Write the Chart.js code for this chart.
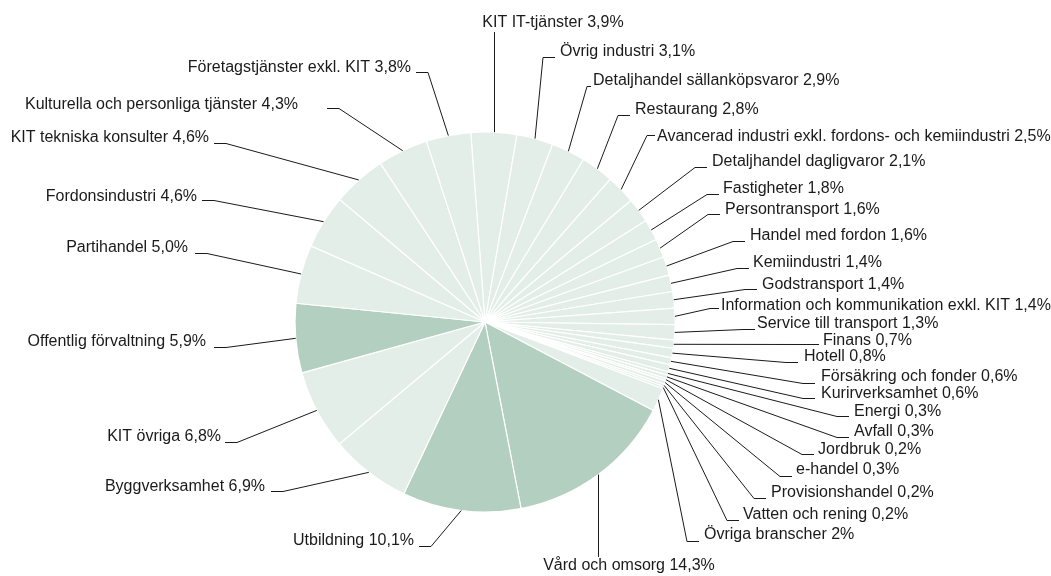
<!DOCTYPE html>
<html>
<head>
<meta charset="utf-8">
<script src="https://cdn.jsdelivr.net/npm/chart.js@4"></script>
<style>
    html, body { margin: 0; padding: 0; background: #fff; }
    #wrap { width: 1051px; height: 576px; }
</style>
</head>
<body>
<div id="wrap"><canvas id="pieChart" width="1051" height="576"></canvas></div>
<script>
// Branscher, clockwise from the top
var categories = [
    'KIT IT-tjänster', 'Övrig industri', 'Detaljhandel sällanköpsvaror', 'Restaurang',
    'Avancerad industri exkl. fordons- och kemiindustri', 'Detaljhandel dagligvaror',
    'Fastigheter', 'Persontransport', 'Handel med fordon', 'Kemiindustri', 'Godstransport',
    'Information och kommunikation exkl. KIT', 'Service till transport', 'Finans', 'Hotell',
    'Försäkring och fonder', 'Kurirverksamhet', 'Energi', 'Avfall', 'Jordbruk', 'e-handel',
    'Provisionshandel', 'Vatten och rening', 'Övriga branscher', 'Vård och omsorg',
    'Utbildning', 'Byggverksamhet', 'KIT övriga', 'Offentlig förvaltning', 'Partihandel',
    'Fordonsindustri', 'KIT tekniska konsulter', 'Kulturella och personliga tjänster',
    'Företagstjänster exkl. KIT'
];
var values = [
    3.9, 3.1, 2.9, 2.8, 2.5, 2.1, 1.8, 1.6, 1.6, 1.4, 1.4, 1.4, 1.3, 0.7, 0.8, 0.6, 0.6,
    0.3, 0.3, 0.2, 0.3, 0.2, 0.2, 2, 14.3, 10.1, 6.9, 6.8, 5.9, 5.0, 4.6, 4.6, 4.3, 3.8
];
var valueText = [
    '3,9%', '3,1%', '2,9%', '2,8%', '2,5%', '2,1%', '1,8%', '1,6%', '1,6%', '1,4%', '1,4%',
    '1,4%', '1,3%', '0,7%', '0,8%', '0,6%', '0,6%', '0,3%', '0,3%', '0,2%', '0,3%', '0,2%',
    '0,2%', '2%', '14,3%', '10,1%', '6,9%', '6,8%', '5,9%', '5,0%', '4,6%', '4,6%', '4,3%', '3,8%'
];
var highlighted = ['Vård och omsorg', 'Utbildning', 'Offentlig förvaltning'];

// Label layout: [leader knee x (null = straight vertical), knee y, text x, text y]
var labelPos = [
    [null, 32, 553, 23],
    [543, 57, 560, 52],
    [587, 86, 593, 81],
    [618, 115, 635, 110],
    [647, 135, 657, 137],
    [695, 167, 712, 162],
    [707, 194, 723, 189],
    [708, 214, 725, 210],
    [733, 241, 750, 236],
    [737, 268, 753, 263],
    [745, 289, 762, 285],
    [710, 308, 721, 306],
    [743, 329, 757, 324],
    [807, 344, 823, 341],
    [786, 362, 804, 357],
    [803, 383, 821, 377],
    [803, 398, 821, 394],
    [837, 416, 854, 412],
    [837, 437, 854, 432],
    [802, 454, 818, 450],
    [780, 476, 796, 470],
    [754, 498, 771, 493],
    [727, 520, 743, 515],
    [687, 541, 704, 535],
    [null, 557, 629, 566],
    [431, 546, 414, 541],
    [283, 491, 265, 487],
    [237, 442, 221, 437],
    [226, 347, 206, 342],
    [207, 253, 188, 248],
    [214, 200, 197, 197],
    [226, 143, 209, 138],
    [339, 108, 298, 105],
    [428, 72, 411, 68]
];

var LIGHT = '#e3eee8';
var DARK = '#b3cfc0';

// Draws the leader lines and the labels outside the pie
var leaderLabels = {
    id: 'leaderLabels',
    afterDatasetsDraw: function (chart) {
        var ctx = chart.ctx;
        var arcs = chart.getDatasetMeta(0).data;
        ctx.save();
        ctx.strokeStyle = '#1a1a1a';
        ctx.fillStyle = '#1a1a1a';
        ctx.lineWidth = 1;
        ctx.font = '16px "Liberation Sans", Arial, sans-serif';
        ctx.textBaseline = 'middle';
        arcs.forEach(function (arc, i) {
            var p = arc.getProps(['x', 'y', 'startAngle', 'endAngle', 'outerRadius'], true);
            var mid = (p.startAngle + p.endAngle) / 2;
            var ex = p.x + Math.cos(mid) * p.outerRadius;
            var ey = p.y + Math.sin(mid) * p.outerRadius;
            var pos = labelPos[i];
            ctx.beginPath();
            if (pos[0] === null) {
                ctx.moveTo(Math.round(ex) + 0.5, ey);
                ctx.lineTo(Math.round(ex) + 0.5, pos[1]);
                ctx.stroke();
                ctx.textAlign = 'center';
            } else {
                var right = pos[2] > pos[0];
                var ky = pos[1] + 0.5;
                var tickEnd = right ? Math.min(pos[0] + 12, pos[2] - 2) : Math.max(pos[0] - 12, pos[2] + 2);
                ctx.moveTo(ex, ey);
                ctx.lineTo(pos[0], ky);
                ctx.lineTo(tickEnd, ky);
                ctx.stroke();
                ctx.textAlign = right ? 'left' : 'right';
            }
            ctx.fillText(categories[i] + ' ' + valueText[i], pos[2], pos[3]);
        });
        ctx.restore();
    }
};

document.addEventListener('DOMContentLoaded', function () {
    var ctx = document.getElementById('pieChart').getContext('2d');
    new Chart(ctx, {
        type: 'pie',
        data: {
            labels: categories,
            datasets: [{
                data: values,
                backgroundColor: categories.map(function (c) {
                    return highlighted.indexOf(c) >= 0 ? DARK : LIGHT;
                }),
                borderColor: '#ffffff',
                borderWidth: 1.2
            }]
        },
        options: {
            responsive: false,
            animation: false,
            rotation: -4.3,
            radius: 190,
            layout: {padding: {left: 0, right: 81, top: 68, bottom: 0}},
            plugins: {
                legend: {display: false},
                tooltip: {enabled: false},
                title: {display: false}
            }
        },
        plugins: [leaderLabels]
    });
});
</script>
</body>
</html>
